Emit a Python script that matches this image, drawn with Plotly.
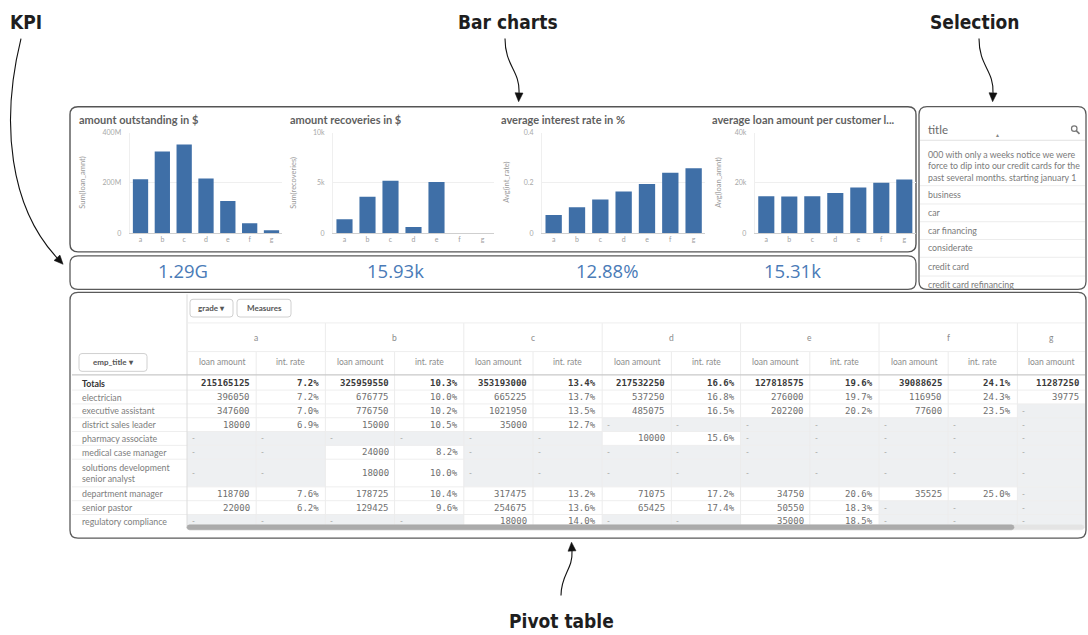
import plotly.graph_objects as go

W, H = 1088, 635

# ---------------- data ----------------
grades = ["a", "b", "c", "d", "e", "f", "g"]
amount_outstanding = [215165125, 325959550, 353193000, 217532250, 127818575, 39088625, 11287250]
amount_recoveries = [1390, 3620, 5220, 610, 5090, 0, 0]
avg_int_rate = [0.072, 0.103, 0.134, 0.166, 0.196, 0.241, 0.259]
avg_loan_amount = [14700, 14600, 14700, 16000, 18200, 20100, 21400]

chart_titles = ["amount outstanding in $", "amount recoveries in $",
                "average interest rate in %", "average loan amount per customer l..."]
measure_labels = ["Sum(loan_amnt)", "Sum(recoveries)", "Avg(int_rate)", "Avg(loan_amnt)"]
y_max = [400e6, 10e3, 0.4, 40e3]
tick_vals = [[0, 200e6, 400e6], [0, 5e3, 10e3], [0, 0.2, 0.4], [0, 20e3, 40e3]]
tick_text = [["0", "200M", "400M"], ["0", "5k", "10k"], ["0", "0.2", "0.4"], ["0", "20k", "40k"]]

kpi_values = ["1.29G", "15.93k", "12.88%", "15.31k"]

selection_field = "title"
selection_items = [
    "000 with only a weeks notice we were<br>force to dip into our credit cards for the<br>past several months. starting january 1",
    "business", "car", "car financing", "considerate", "credit card", "credit card refinancing",
]

emp_titles = ["Totals", "electrician", "executive assistant", "district sales leader",
              "pharmacy associate", "medical case manager",
              "solutions development<br>senior analyst", "department manager",
              "senior pastor", "regulatory compliance"]
row_spans = [1, 1, 1, 1, 1, 1, 2, 1, 1, 1]
pivot_loan = [
    [215165125, 325959550, 353193000, 217532250, 127818575, 39088625, 11287250],
    [396050, 676775, 665225, 537250, 276000, 116950, 39775],
    [347600, 776750, 1021950, 485075, 202200, 77600, None],
    [18000, 15000, 35000, None, None, None, None],
    [None, None, None, 10000, None, None, None],
    [None, 24000, None, None, None, None, None],
    [None, 18000, None, None, None, None, None],
    [118700, 178725, 317475, 71075, 34750, 35525, None],
    [22000, 129425, 254675, 65425, 50550, None, None],
    [None, None, 18000, None, 35000, None, None],
]
pivot_rate = [
    [7.2, 10.3, 13.4, 16.6, 19.6, 24.1],
    [7.2, 10.0, 13.7, 16.8, 19.7, 24.3],
    [7.0, 10.2, 13.5, 16.5, 20.2, 23.5],
    [6.9, 10.5, 12.7, None, None, None],
    [None, None, None, 15.6, None, None],
    [None, 8.2, None, None, None, None],
    [None, 10.0, None, None, None, None],
    [7.6, 10.4, 13.2, 17.2, 20.6, 25.0],
    [6.2, 9.6, 13.6, 17.4, 18.3, None],
    [None, None, 14.0, None, 18.5, None],
]
measure_names = ["loan amount", "int. rate"]

callouts = ["KPI", "Bar charts", "Selection", "Pivot table"]

# ---------------- style ----------------
BLUE = "#3f6fa7"
UI = "Lato, 'Open Sans', sans-serif"
MONO = "'DejaVu Sans Mono', 'Liberation Mono', monospace"
CALL = "'Liberation Sans Narrow', 'DejaVu Sans Condensed', Lato, sans-serif"

fig = go.Figure()
shapes, annots = [], []


def ann(x, y, text, size=9, color="#666", family=UI, xanchor="center", yanchor="middle", **kw):
    annots.append(dict(x=x, y=y, xref="x", yref="y", text=text, showarrow=False,
                       font=dict(size=size, color=color, family=family),
                       xanchor=xanchor, yanchor=yanchor, **kw))


def rect(x0, y0, x1, y1, fill=None, line=None, lw=1):
    shapes.append(dict(type="rect", xref="x", yref="y", x0=x0, y0=y0, x1=x1, y1=y1,
                       fillcolor=fill or "rgba(0,0,0,0)",
                       line=dict(color=line or "rgba(0,0,0,0)", width=lw if line else 0),
                       layer="below"))


def line(x0, y0, x1, y1, color="#e6e6e6", lw=1):
    shapes.append(dict(type="line", xref="x", yref="y", x0=x0, y0=y0, x1=x1, y1=y1,
                       line=dict(color=color, width=lw), layer="below"))


def rrect(x0, y0, x1, y1, r=8, fill="white", color="#5a5a5a", lw=1.3):
    p = (f"M{x0+r},{y0} L{x1-r},{y0} Q{x1},{y0} {x1},{y0+r} L{x1},{y1-r} Q{x1},{y1} {x1-r},{y1} "
         f"L{x0+r},{y1} Q{x0},{y1} {x0},{y1-r} L{x0},{y0+r} Q{x0},{y0} {x0+r},{y0} Z")
    shapes.append(dict(type="path", xref="x", yref="y", path=p, fillcolor=fill,
                       line=dict(color=color, width=lw), layer="below"))


def curve_arrow(p0, c1, c2, p1, L=9, hw=4):
    shapes.append(dict(type="path", xref="x", yref="y",
                       path=f"M{p0[0]},{p0[1]} C{c1[0]},{c1[1]} {c2[0]},{c2[1]} {p1[0]},{p1[1]}",
                       line=dict(color="#111", width=1.1), layer="below"))
    dx, dy = p1[0] - c2[0], p1[1] - c2[1]
    n = (dx * dx + dy * dy) ** 0.5
    dx, dy = dx / n, dy / n
    tip = (p1[0] + dx * L, p1[1] + dy * L)
    px, py = -dy, dx
    shapes.append(dict(type="path", xref="x", yref="y",
                       path=(f"M{tip[0]},{tip[1]} L{p1[0]+px*hw},{p1[1]+py*hw} "
                             f"L{p1[0]-px*hw},{p1[1]-py*hw} Z"),
                       fillcolor="#111", line=dict(color="#111", width=0.5), layer="below"))


# ---------------- panels ----------------
rrect(70, 103, 916, 250, color="#555", lw=1.4)
rrect(70, 254, 916, 288)
rrect(919, 103, 1086, 288)
rrect(70, 291, 1086, 540)

# ---------------- bar charts ----------------
series = [amount_outstanding, amount_recoveries, avg_int_rate, avg_loan_amount]
x_domains_px = [(129.6, 282.4), (333, 494), (542, 705.3), (754.8, 915.8)]
title_x = [77, 288, 499, 710]
ytitle_x = [83, 294, 507, 719]
layout_axes = {}
for i, vals in enumerate(series):
    k = i + 2
    fig.add_trace(go.Bar(x=grades, y=vals, marker=dict(color=BLUE, line=dict(width=0)),
                         xaxis=f"x{k}", yaxis=f"y{k}", showlegend=False, hoverinfo="skip"))
    x0, x1 = x_domains_px[i]
    layout_axes[f"xaxis{k}"] = dict(domain=[x0 / W, x1 / W], anchor=f"y{k}", type="category",
                                    categoryorder="array", categoryarray=grades,
                                    showline=True, linecolor="#cfcfcf", linewidth=1,
                                    showgrid=False, ticks="", fixedrange=True,
                                    tickfont=dict(size=7, color="#a0a0a0", family=UI))
    layout_axes[f"yaxis{k}"] = dict(domain=[1 - 231 / H, 1 - 129.5 / H], anchor=f"x{k}",
                                    range=[0, y_max[i]], tickvals=tick_vals[i],
                                    ticktext=tick_text[i], showgrid=True, gridcolor="#efefef",
                                    zeroline=False, showline=True, linecolor="#efefef",
                                    ticks="", ticklabelstandoff=6, fixedrange=True,
                                    tickfont=dict(size=7, color="#a8a8a8", family=UI))
    ann(title_x[i], 116, f"<b>{chart_titles[i]}</b>", size=11, color="#5f5f5f", xanchor="left")
    ann(ytitle_x[i], 180, measure_labels[i], size=7.5, color="#9a9a9a", textangle=-90)

# ---------------- KPI ----------------
kpi_x = [183, 395, 607, 792]
for xk, v in zip(kpi_x, kpi_values):
    ann(xk, 269, v, size=18.5, color="#4a7bb7", family="'Open Sans', Lato, sans-serif")

# ---------------- selection list ----------------
ann(926, 126, selection_field, size=11.5, color="#6a6a6a", xanchor="left")
shapes.append(dict(type="circle", xref="x", yref="y", x0=1071.5, y0=122.5, x1=1077, y1=128,
                   line=dict(color="#777", width=1.2), layer="below"))
line(1076.2, 127.2, 1079.5, 130.5, color="#777", lw=1.6)
ann(997, 132, "▲", size=5, color="#888")
line(920, 137, 1085, 137, color="#e2e2e2")
item_y = [163, 192, 210, 228, 246, 265, 283]
for j, (txt, yy) in enumerate(zip(selection_items, item_y)):
    ann(926, yy, txt, size=8.8, color="#7a7a7a", xanchor="left", align="left")
    if j < len(selection_items) - 1:
        sep = 183 if j == 0 else yy + 9.5
        line(920, sep, 1085, sep, color="#ececec")

# ---------------- pivot table ----------------
col_x0, col_w = 187, 69.2
right_edge = 1085
columns = []
for gi in range(len(grades)):
    columns.append((gi, 0))
    if gi < len(pivot_rate[0]):
        columns.append((gi, 1))

row_h, row_top = 14, 376
row_tops = []
t = row_top
for s in row_spans:
    row_tops.append(t)
    t += s * row_h
table_bottom = min(t, 531)

# cell shading and values
for r, label in enumerate(emp_titles):
    y0 = row_tops[r]
    y1 = min(y0 + row_spans[r] * row_h, table_bottom)
    yc = y0 + row_spans[r] * row_h / 2
    bold = r == 0
    ann(80, yc, f"<b>{label}</b>" if bold else label, size=8.8,
        color="#333" if bold else "#7d7d7d", xanchor="left", align="left")
    for c, (gi, m) in enumerate(columns):
        cx0 = col_x0 + c * col_w
        cx1 = min(cx0 + col_w, right_edge)
        v = pivot_loan[r][gi] if m == 0 else pivot_rate[r][gi]
        if v is None:
            rect(cx0, y0, cx1, y1, fill="#eef0f2")
            ann(cx0 + 3, yc, "-", size=8, color="#999", xanchor="left")
        else:
            txt = f"{v:d}" if m == 0 else f"{v:.1f}%"
            if bold:
                txt = f"<b>{txt}</b>"
            ann(cx1 - 4, yc, txt, size=9, color="#3a3a3a" if bold else "#6f6f6f",
                family=MONO, xanchor="right")

# grid lines
for r in range(1, len(emp_titles)):
    line(72, row_tops[r], right_edge, row_tops[r], color="#eeeeee")
for c in range(1, len(columns)):
    xx = col_x0 + c * col_w
    top = 322 if columns[c][1] == 0 else 351
    line(xx, top, xx, table_bottom, color="#ececec")
line(col_x0, 293, col_x0, table_bottom, color="#dcdcdc")
line(col_x0, 322, right_edge, 322, color="#eeeeee")
line(col_x0, 351, right_edge, 351, color="#eeeeee")
line(72, 374.5, right_edge, 374.5, color="#c9c9c9", lw=1.3)

# header labels
for gi, g in enumerate(grades):
    idx = [c for c, col in enumerate(columns) if col[0] == gi]
    gx0 = col_x0 + idx[0] * col_w
    gx1 = min(col_x0 + (idx[-1] + 1) * col_w, right_edge)
    ann((gx0 + gx1) / 2, 337, g, size=8.5, color="#8a8a8a")
for c, (gi, m) in enumerate(columns):
    cx0 = col_x0 + c * col_w
    cx1 = min(cx0 + col_w, right_edge)
    ann((cx0 + cx1) / 2, 362, measure_names[m], size=8.5, color="#8d8d8d")

# buttons
rrect(190, 298, 233, 316, r=3, fill="white", color="#d0d0d0", lw=1)
ann(211.5, 307, "<b>grade ▾</b>", size=8, color="#555")
rrect(237, 298, 291, 316, r=3, fill="white", color="#d0d0d0", lw=1)
ann(264, 307, "<b>Measures</b>", size=8, color="#555")
rrect(79, 353, 147, 371, r=3, fill="white", color="#d0d0d0", lw=1)
ann(113, 362, "<b>emp_title ▾</b>", size=8, color="#555")

# horizontal scrollbar
rrect(187, 526.5, 1084, 531.5, r=2.5, fill="#e4e4e4", color="#e4e4e4", lw=0.5)
rrect(187, 526.5, 1014, 531.5, r=2.5, fill="#ababab", color="#ababab", lw=0.5)

# ---------------- callouts ----------------
call_pos = [(26, 17), (508, 17), (974, 17), (561, 624)]
for txt, (cx, cy) in zip(callouts, call_pos):
    ann(cx, cy, f"<b>{txt}</b>", size=19, color="#1e1e1e", family=CALL)
curve_arrow((21, 34), (0, 120), (10, 205), (57, 256))
curve_arrow((505, 34), (505, 62), (520, 66), (519, 89))
curve_arrow((979, 34), (979, 62), (994, 66), (993, 89))
curve_arrow((561, 598), (561, 576), (573, 572), (572, 553))

# base pixel axes
fig.add_trace(go.Scatter(x=[], y=[], xaxis="x", yaxis="y", showlegend=False, hoverinfo="skip"))

fig.update_layout(
    width=W, height=H, margin=dict(l=0, r=0, t=0, b=0),
    paper_bgcolor="white", plot_bgcolor="rgba(0,0,0,0)",
    showlegend=False, bargap=0.3,
    xaxis=dict(domain=[0, 1], range=[0, W], visible=False, fixedrange=True),
    yaxis=dict(domain=[0, 1], range=[H, 0], visible=False, fixedrange=True),
    shapes=shapes, annotations=annots,
    **layout_axes,
)
fig.write_html("out.html", config={"displayModeBar": False},
               post_script="document.body.style.margin='0';document.body.style.padding='0';"
                           "document.body.style.overflow='hidden';")
